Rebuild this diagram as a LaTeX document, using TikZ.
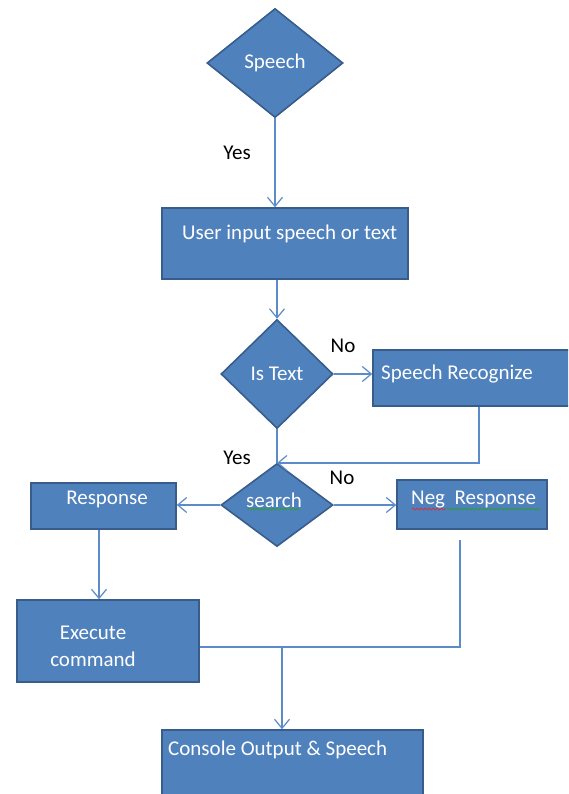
\documentclass[tikz,border=0pt]{standalone}
\usepackage{fontspec}
\setmainfont{Carlito}
\usetikzlibrary{shapes.geometric,arrows.meta,decorations.pathmorphing}
\definecolor{boxfill}{HTML}{4F81BD}
\definecolor{boxline}{HTML}{385D8A}
\definecolor{wire}{HTML}{5B8BC9}
\definecolor{spellred}{HTML}{E02828}
\definecolor{spellgreen}{HTML}{28A028}

\begin{document}
\begin{tikzpicture}[x=1pt,y=-1pt,
  every node/.style={font=\fontsize{21}{27}\selectfont},
  decision/.style={diamond, draw=boxline, fill=boxfill, line width=1.6pt, inner sep=0pt, text=white},
  block/.style={rectangle, draw=boxline, fill=boxfill, line width=1.6pt, inner sep=0pt},
  blocktext/.style={text=white, inner sep=0pt},
  answer/.style={text=black, inner sep=0pt},
  flow/.style={draw=wire, line width=1.2pt},
  flowarrow/.style={flow, -{Straight Barb[length=9pt,width=15pt]}},
  spell/.style={line width=0.7pt, decorate, decoration={snake, amplitude=1pt, segment length=4pt}}]
\useasboundingbox (0,0) rectangle (568,794);
\fill[white] (0,0) rectangle (568,794);
\clip (0,0) rectangle (568,794);

\node[decision, minimum width=136, minimum height=109] (speech) at (275,63) {Speech};

\node[block, minimum width=246, minimum height=71] (input) at (285,243.5) {};
\node[blocktext, anchor=west] (inputtext) at (182,234) {User input speech or text};

\node[decision, minimum width=112, minimum height=109] (istext) at (277,374) {Is Text};

\node[block, minimum width=227, minimum height=56] (recog) at (486.5,378) {};
\node[blocktext, anchor=west] (recogtext) at (381,374) {Speech Recognize};

\node[decision, minimum width=112, minimum height=83] (search) at (277,505) {};
\node[blocktext] (searchtext) at (274,500) {search};

\node[block, minimum width=145, minimum height=46] (resp) at (103.5,506) {};
\node[blocktext] (resptext) at (107,499) {Response};

\node[block, minimum width=150, minimum height=49] (neg) at (472,504.5) {};
\node[blocktext, anchor=west] (negtext) at (411,500) {Neg\ \ Response};

\node[block, minimum width=182, minimum height=82] (exec) at (108,641) {};
\node[blocktext, align=center] (exectext) at (93,646) {Execute\\command};

\node[block, minimum width=261, minimum height=100] (console) at (292.5,780) {};
\node[blocktext, anchor=west] (consoletext) at (168,750) {Console Output \& Speech};

\node[answer] (yes1) at (237,153) {Yes};
\node[answer] (no1) at (343,346) {No};
\node[answer] (yes2) at (237,458) {Yes};
\node[answer] (no2) at (342,478) {No};

\coordinate (back) at (277,463);
\coordinate (merge) at (282,647);

\draw[flowarrow] (speech.south) -- (speech.south |- input.north);
\draw[flowarrow] (istext.north |- input.south) -- (istext.north);
\draw[flowarrow] (istext.east) -- (istext.east -| recog.west);
\draw[flow] (istext.south) -- (search.north);
\draw[flowarrow] ([xshift=-7.5pt]recog.south) |- (back);
\draw[flowarrow] (search.west) -- (search.west -| resp.east);
\draw[flowarrow] (search.east) -- (search.east -| neg.west);
\draw[flowarrow] ([xshift=-4.5pt]resp.south) -- ([xshift=-4.5pt]resp.south |- exec.north);
\draw[flow, shorten >=10pt] (exec.east |- merge) -| ([xshift=-12pt]neg.south);
\draw[flowarrow] (merge) -- (merge |- console.north);

\draw[spell, spellgreen] (248,509) -- (300,509);
\draw[spell, spellred] (412,509) -- (446,509);
\draw[spell, spellgreen] (447,509) -- (541,509);
\end{tikzpicture}
\end{document}
